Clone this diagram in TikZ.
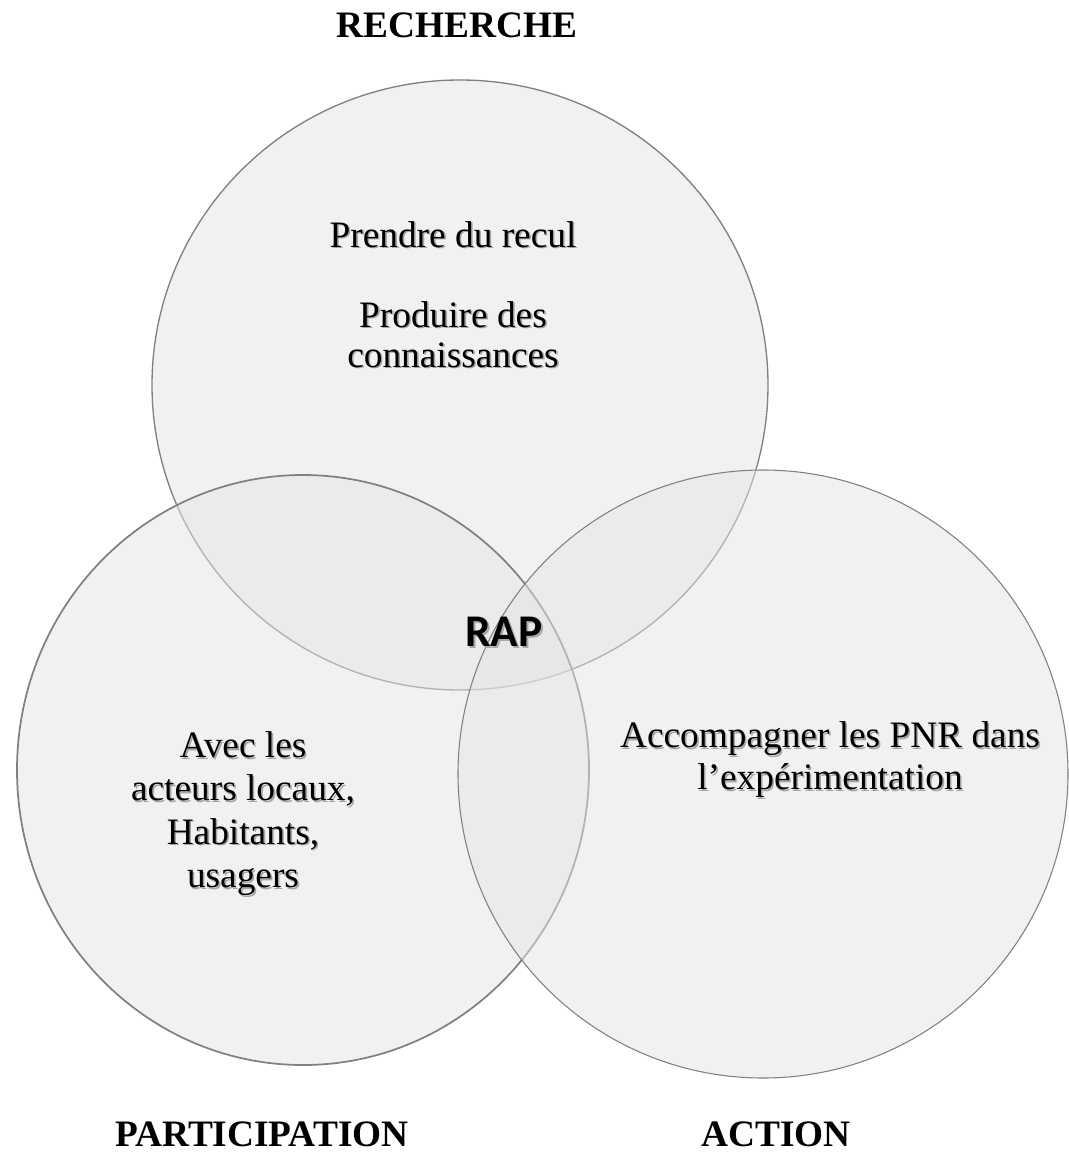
\documentclass[tikz,border=0pt]{standalone}
\usepackage{fontspec}
\setmainfont{Liberation Serif}
\newfontfamily\rapfont{Carlito}
\usepackage{tikz}
\usetikzlibrary{positioning,calc}
\definecolor{discfill}{RGB}{228,228,228}
\definecolor{discline}{RGB}{128,128,128}

\begin{document}
\begin{tikzpicture}[x=0.75pt, y=-0.75pt]
    \tikzstyle{disc}=[draw=discline, line width=1pt, fill=discfill, fill opacity=0.5]
    \tikzstyle{pole}=[inner sep=0pt, font=\fontsize{28}{30}\selectfont\bfseries]
    \tikzstyle{txt}=[inner sep=0pt, align=center, font=\fontsize{28}{30}\selectfont]
    \tikzstyle{shade}=[text=black!35, xshift=1.2pt, yshift=-1.2pt]
    \useasboundingbox (0,0) rectangle (1068,1153);
    % the three discs
    \draw[disc] (460,385) ellipse [x radius=308, y radius=305];
    \draw[disc, line width=1.3pt] (303,770) ellipse [x radius=286, y radius=295];
    \draw[disc, line width=0.8pt] (763,774) ellipse [x radius=305, y radius=304];
    % headings
    \node[pole] (recherche) at (457,25) {RECHERCHE};
    \node[pole] (participation) at (262,1134) {PARTICIPATION};
    \node[pole] (action) at (776,1134) {ACTION};
    % texts with shadow
    \node[txt, shade] at (453,234.5) {Prendre du recul};
    \node[txt] (recul) at (453,234.5) {Prendre du recul};
    \node[txt, shade] at (453,334.5) {Produire des\\connaissances};
    \node[txt] (savoir) at (453,334.5) {Produire des\\connaissances};
    \node[txt, shade, font=\fontsize{28}{32.5}\selectfont] at (243,813.5) {Avec les\\acteurs locaux,\\Habitants,\\usagers};
    \node[txt, font=\fontsize{28}{32.5}\selectfont] (acteurs) at (243,813.5) {Avec les\\acteurs locaux,\\Habitants,\\usagers};
    \node[txt, shade, font=\fontsize{28}{31.5}\selectfont] at (830,759.5) {Accompagner les PNR dans\\l’expérimentation};
    \node[txt, font=\fontsize{28}{31.5}\selectfont] (pnr) at (830,759.5) {Accompagner les PNR dans\\l’expérimentation};
    \node[txt, shade, font=\fontsize{34}{36}\rapfont\bfseries] at (504,632) {RAP};
    \node[txt, font=\fontsize{34}{36}\rapfont\bfseries] (rap) at (504,632) {RAP};
\end{tikzpicture}
\end{document}
